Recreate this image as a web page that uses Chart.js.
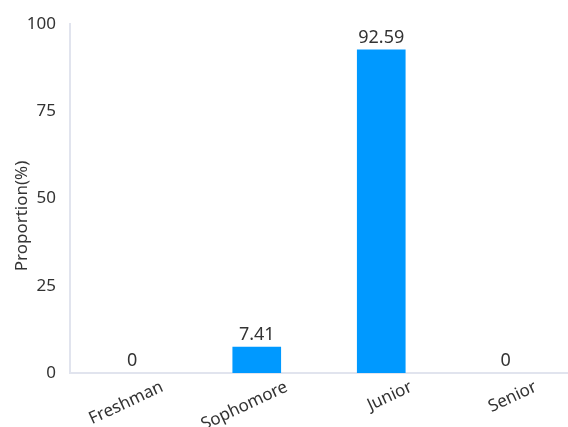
<!DOCTYPE html>
<html>
<head>
<meta charset="utf-8">
<script src="https://cdn.jsdelivr.net/npm/chart.js@4"></script>
<style>
  html, body { margin: 0; padding: 0; background: #fff; }
  #wrap { width: 568px; height: 427px; }
</style>
</head>
<body>
<div id="wrap"><canvas id="chart" width="568" height="427"></canvas></div>
<script>
const grades = ["Freshman", "Sophomore", "Junior", "Senior"];
const proportion = [0, 7.41, 92.59, 0];
const yTicks = [0, 25, 50, 75, 100];
const yTitle = "Proportion(%)";

const FONT = "'Noto Sans', 'Open Sans', sans-serif";
const TEXT = "#333";
const AXIS = "#e1e4ee";

// print each bar's value just above it, plus the rotated y title
const valueLabels = {
  id: "valueLabels",
  afterDatasetsDraw(chart) {
    const ctx = chart.ctx;
    const meta = chart.getDatasetMeta(0);
    ctx.save();
    ctx.font = "18px " + FONT;
    ctx.fillStyle = TEXT;
    ctx.textAlign = "center";
    ctx.textBaseline = "bottom";
    meta.data.forEach((bar, i) => {
      ctx.fillText(String(proportion[i]), bar.x, bar.y - 3);
    });

    ctx.translate(22, 216);
    ctx.rotate(-Math.PI / 2);
    ctx.textBaseline = "middle";
    ctx.font = "17px " + FONT;
    ctx.fillText(yTitle, 0, 0);
    ctx.restore();
  }
};

new Chart(document.getElementById("chart"), {
  type: "bar",
  data: {
    labels: grades,
    datasets: [{
      data: proportion,
      backgroundColor: c => (c.raw === 0 ? "rgba(0,0,0,0)" : "#0099ff"),
      barThickness: 48,
    }],
  },
  options: {
    responsive: false,
    animation: false,
    layout: { padding: { top: 24, right: -2, left: 0, bottom: 0 } },
    plugins: { legend: { display: false }, tooltip: { enabled: false } },
    scales: {
      x: {
        grid: { display: false },
        border: { display: true, color: AXIS, width: 2 },
        ticks: {
          color: TEXT,
          font: { family: FONT, size: 17 },
          minRotation: 25,
          maxRotation: 25,
          padding: -4,
          labelOffset: 30,
        },
        afterFit(scale) { scale.height = 54; },
      },
      y: {
        min: 0,
        max: 100,
        grid: { display: false },
        border: { display: true, color: AXIS, width: 2 },
        afterBuildTicks(scale) { scale.ticks = yTicks.map(v => ({ value: v })); },
        ticks: {
          color: TEXT,
          font: { family: FONT, size: 17 },
          padding: 6,
        },
        afterFit(scale) { scale.width = 70; },
      },
    },
  },
  plugins: [valueLabels],
});
</script>
</body>
</html>
